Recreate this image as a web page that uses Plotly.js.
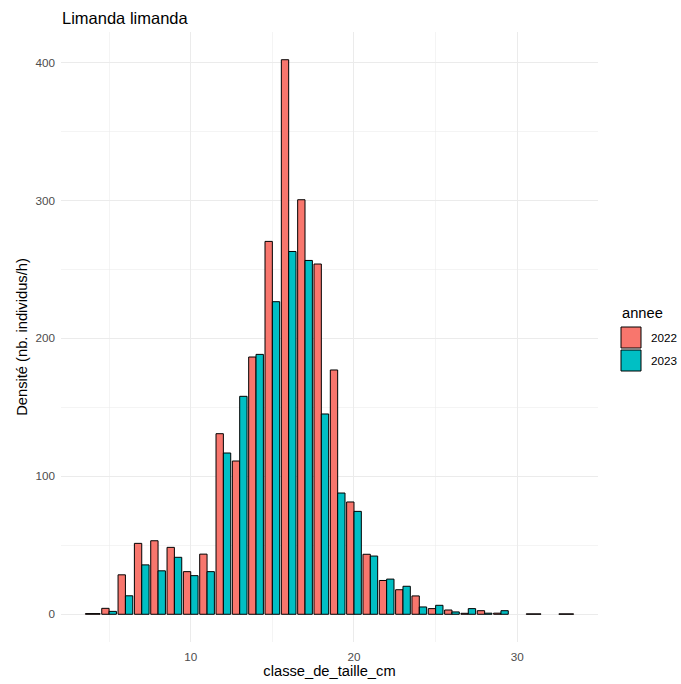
<!DOCTYPE html>
<html>
<head>
<meta charset="utf-8">
<script src="https://cdn.plot.ly/plotly-3.0.1.min.js"></script>
<style>html,body{margin:0;padding:0;background:#fff;}#chart{width:681px;height:684px;}</style>
</head>
<body>
<div id="chart"></div>
<script>
// Size classes (cm)
var classes = [4, 5, 6, 7, 8, 9, 10, 11, 12, 13, 14, 15, 16, 17, 18, 19, 20, 21, 22, 23, 24, 25, 26, 27, 28, 29, 31, 33];
// Density 2022 (nb. individus/h)
var dens2022 = [0.5, 4.3, 28.6, 51.4, 53.3, 48.5, 30.9, 43.6, 130.9, 111.1, 186.5, 270.3, 402.0, 300.5, 253.9, 177.1, 81.4, 43.5, 24.5, 17.8, 13.3, 4.1, 3.1, 0.7, 2.6, 0.8, 0.3, 0.3];
// Density 2023 (nb. individus/h)
var dens2023 = [null, 2.1, 13.4, 35.8, 31.5, 41.3, 28.0, 30.9, 116.9, 158.0, 188.4, 226.6, 263.0, 256.5, 145.2, 87.9, 74.6, 42.2, 25.5, 20.3, 5.3, 6.5, 1.7, 4.1, 0.8, 2.6, null, null];
var years = ['2022', '2023'];
var colors = ['#F8766D', '#00BFC4'];
// axis ticks
var xMajor = [10, 20, 30], xMinor = [5, 15, 25];
var yMajor = [0, 100, 200, 300, 400], yMinor = [50, 150, 250, 350];

// ggplot-like dodge: full width 0.9 shared by present groups
var W = 0.9;
function dodge(idx) {
  var offs = [], wids = [];
  for (var i = 0; i < classes.length; i++) {
    var a = dens2022[i] != null, b = dens2023[i] != null;
    var n = (a ? 1 : 0) + (b ? 1 : 0);
    var w = W / n;
    var k = (idx === 1 && a) ? 1 : 0;
    offs.push(-W / 2 + k * w);
    wids.push(w);
  }
  return {offset: offs, width: wids};
}
var series = [dens2022, dens2023];
var traces = series.map(function (vals, j) {
  var d = dodge(j);
  return {
    type: 'bar', name: years[j], x: classes, y: vals,
    offset: d.offset, width: d.width,
    marker: {color: colors[j], line: {color: '#000000', width: 1}},
    showlegend: false, hoverinfo: 'x+y+name'
  };
});

// plot area in pixels
var L = 61, R = 598, T = 32, B = 642, FW = 681, FH = 684;
function px(x) { return (x - L) / (R - L); }
function py(y) { return (B - y) / (B - T); }

var font = 'Liberation Sans, Arial, sans-serif';
var shapes = [], annotations = [];
var leg = [{y0: 327, y1: 348}, {y0: 350, y1: 371}];
annotations.push({xref: 'paper', yref: 'paper', x: px(620), y: py(313), xanchor: 'left', yanchor: 'middle',
  text: 'annee', showarrow: false, font: {family: font, size: 14.7, color: '#000'}});
for (var j = 0; j < years.length; j++) {
  shapes.push({type: 'rect', xref: 'paper', yref: 'paper', x0: px(621), x1: px(641), y0: py(leg[j].y1), y1: py(leg[j].y0),
    fillcolor: colors[j], line: {color: '#000', width: 1}});
  annotations.push({xref: 'paper', yref: 'paper', x: px(649), y: py((leg[j].y0 + leg[j].y1) / 2), xanchor: 'left', yanchor: 'middle',
    text: years[j], showarrow: false, font: {family: font, size: 11.7, color: '#000'}});
}

var layout = {
  width: FW, height: FH,
  margin: {l: L, r: FW - R, t: T, b: FH - B, pad: 0},
  paper_bgcolor: '#fff', plot_bgcolor: '#fff',
  barmode: 'overlay',
  font: {family: font, color: '#000'},
  title: {text: 'Limanda limanda', xref: 'container', yref: 'container', x: 62 / FW, xanchor: 'left',
    y: 1 - 18 / FH, yanchor: 'middle', font: {family: font, size: 16.5, color: '#000'}},
  xaxis: {
    range: [2.055, 34.945], tickmode: 'array', tickvals: xMajor, ticktext: xMajor.map(String),
    showgrid: true, gridcolor: '#EBEBEB', gridwidth: 1,
    minor: {tickmode: 'array', tickvals: xMinor, showgrid: true, gridcolor: '#EBEBEB', gridwidth: 0.55},
    zeroline: false, showline: false, ticks: '', ticklabelstandoff: 6,
    tickfont: {family: font, size: 11.7, color: '#4D4D4D'},
    title: {text: 'classe_de_taille_cm', standoff: 4, font: {family: font, size: 14.7, color: '#000'}},
    automargin: false
  },
  yaxis: {
    range: [-20.1, 422.1], tickmode: 'array', tickvals: yMajor, ticktext: yMajor.map(String),
    showgrid: true, gridcolor: '#EBEBEB', gridwidth: 1,
    minor: {tickmode: 'array', tickvals: yMinor, showgrid: true, gridcolor: '#EBEBEB', gridwidth: 0.55},
    zeroline: false, showline: false, ticks: '', ticklabelstandoff: 5,
    tickfont: {family: font, size: 11.7, color: '#4D4D4D'},
    title: {text: 'Densité (nb. individus/h)', standoff: 4, font: {family: font, size: 14.7, color: '#000'}},
    automargin: false
  },
  shapes: shapes,
  annotations: annotations
};
Plotly.newPlot('chart', traces, layout, {displayModeBar: false, staticPlot: true});
</script>
</body>
</html>
